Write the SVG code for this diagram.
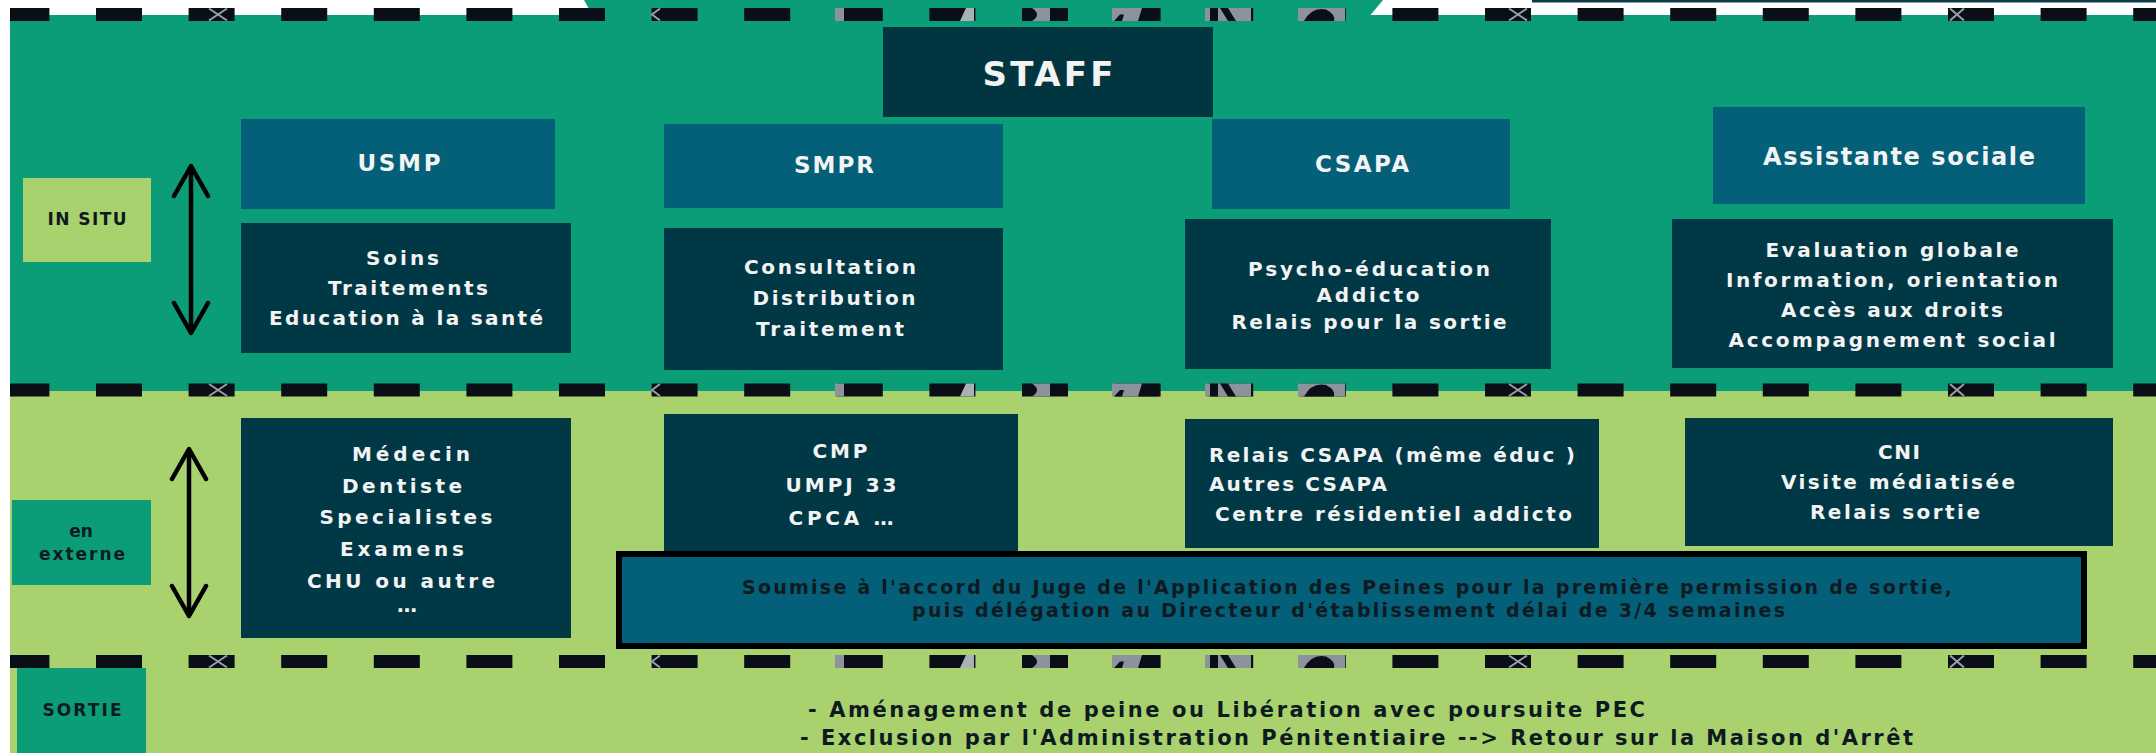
<svg xmlns="http://www.w3.org/2000/svg" xmlns:xlink="http://www.w3.org/1999/xlink" width="2156" height="753" viewBox="0 0 2156 753">
<style>
.t{font-family:"DejaVu Sans","Open Sans",sans-serif;font-weight:700;}
.w{fill:#f3f3f3;}
.k{fill:#0e1a20;}
.s18{font-size:20px;}
.s16{font-size:17px;}
.s21{font-size:23px;}
.mid{text-anchor:middle;}
.hdr{fill:#045f79;}
.dark{fill:#013845;}
.grn{fill:#0b9d78;}
.lgr{fill:#a9d26e;}
.arrow{stroke:#000;stroke-width:4.5;fill:none;marker-start:url(#ah);marker-end:url(#ah);}
</style>
<defs>
<marker id="ah" markerUnits="userSpaceOnUse" markerWidth="40" markerHeight="40" viewBox="0 0 40 40" refX="34" refY="20" orient="auto-start-reverse">
<path d="M4,3 L34,20 L4,37" fill="none" stroke="#000" stroke-width="4.5" stroke-linejoin="round" stroke-linecap="round"/>
</marker>
<g id="dashrow">
<line x1="10" y1="0" x2="2156" y2="0" stroke="#0a0e17" stroke-width="13" stroke-dasharray="46 46.6" stroke-dashoffset="6.6"/>
<g stroke="#9aa0a8" stroke-width="2" fill="none">
<path d="M209,-6 L227,6 M227,-6 L209,6"/>
<path d="M660,-6 L652,0 L660,6"/>
<path d="M1509,-6 L1527,6 M1527,-6 L1509,6"/>
<path d="M1950,-6 L1964,6 M1964,-6 L1950,6"/>
</g>
<rect x="835" y="-6.5" width="9" height="13" fill="#8d939c"/>
<path d="M966,-6.5 L974,-6.5 L974,6.5 L960,6.5 Z" fill="#a9b0b6"/>
<rect x="1032" y="-6.5" width="18" height="13" fill="#8d939c"/>
<path d="M1032,-6.5 Q1042,0 1032,6.5 Z" fill="#0a0e17"/>
<rect x="1112" y="-6.5" width="47" height="13" fill="#8d939c"/>
<path d="M1114,6.5 L1120,0 L1124,0 L1122,6.5 Z M1142,-6.5 L1159,-6.5 L1159,6.5 L1138,6.5 Z" fill="#0a0e17"/>
<rect x="1205" y="-6.5" width="46" height="13" fill="#8d939c"/>
<path d="M1210,-6.5 L1218,-6.5 L1218,6.5 L1210,6.5 Z M1220,-6.5 L1228,-6.5 L1236,6.5 L1228,6.5 Z" fill="#0a0e17"/>
<rect x="1298" y="-6.5" width="47" height="13" fill="#8d939c"/>
<path d="M1304,6.5 Q1312,-8 1326,-5 Q1336,0 1334,6.5 Z" fill="#0a0e17"/>
</g>
</defs>

<rect x="0" y="0" width="2156" height="753" fill="#ffffff"/>
<g id="background">
<rect x="10" y="15" width="2146" height="377" class="grn"/>
<polygon points="584,0 1383,0 1368,18 594,18" class="grn"/>
<rect x="10" y="391" width="2146" height="362" class="lgr"/>
<rect x="1532" y="0" width="624" height="2.5" fill="#0c3a47"/>
</g>

<g id="separators">
<use xlink:href="#dashrow" href="#dashrow" y="14.5"/>
<use xlink:href="#dashrow" href="#dashrow" y="390"/>
<use xlink:href="#dashrow" href="#dashrow" y="661.5"/>
</g>

<g id="connectors">
<line class="arrow" x1="191" y1="166" x2="191" y2="333"/>
<line class="arrow" x1="189" y1="449" x2="189" y2="616"/>
</g>

<g id="staff">
<rect x="883" y="27" width="330" height="90" fill="#013641"/>
<text class="t w mid" x="1048" y="86" font-size="34" textLength="131">STAFF</text>
</g>

<g id="in-situ">
<rect x="23" y="178" width="128" height="84" class="lgr"/>
<text class="t k s16 mid" x="87" y="225" textLength="79">IN SITU</text>
</g>

<g id="en-externe">
<rect x="12" y="500" width="139" height="85" class="grn"/>
<text class="t k s16 mid" x="81" y="537">en</text>
<text class="t k s16 mid" x="82" y="560" textLength="86">externe</text>
</g>

<g id="sortie">
<rect x="17" y="668" width="129" height="85" class="grn"/>
<text class="t k s16 mid" x="82" y="716" textLength="79">SORTIE</text>
</g>

<g id="usmp">
<rect x="241" y="119" width="314" height="90" class="hdr"/>
<text class="t w s21 mid" x="399" y="171" textLength="83">USMP</text>
</g>
<g id="usmp-insitu">
<rect x="241" y="223" width="330" height="130" class="dark"/>
<text class="t w s18 mid" x="402.5" y="265" textLength="73">Soins</text>
<text class="t w s18 mid" x="408" y="295" textLength="160">Traitements</text>
<text class="t w s18 mid" x="406" y="325" textLength="274">Education à la santé</text>
</g>

<g id="smpr">
<rect x="664" y="124" width="339" height="84" class="hdr"/>
<text class="t w s21 mid" x="834" y="173" textLength="80">SMPR</text>
</g>
<g id="smpr-insitu">
<rect x="664" y="228" width="339" height="142" class="dark"/>
<text class="t w s18 mid" x="830" y="274" textLength="172">Consultation</text>
<text class="t w s18 mid" x="834" y="305" textLength="163">Distribution</text>
<text class="t w s18 mid" x="830" y="336" textLength="148">Traitement</text>
</g>

<g id="csapa">
<rect x="1212" y="119" width="298" height="90" class="hdr"/>
<text class="t w s21 mid" x="1362" y="172" textLength="94">CSAPA</text>
</g>
<g id="csapa-insitu">
<rect x="1185" y="219" width="366" height="150" class="dark"/>
<text class="t w s18 mid" x="1369" y="276" textLength="242">Psycho-éducation</text>
<text class="t w s18 mid" x="1368" y="302" textLength="103">Addicto</text>
<text class="t w s18 mid" x="1369" y="329" textLength="275">Relais pour la sortie</text>
</g>

<g id="assistante-sociale">
<rect x="1713" y="107" width="372" height="97" class="hdr"/>
<text class="t w mid" x="1899" y="165" font-size="24" textLength="272">Assistante sociale</text>
</g>
<g id="as-insitu">
<rect x="1672" y="219" width="441" height="149" class="dark"/>
<text class="t w s18 mid" x="1892" y="257" textLength="253">Evaluation globale</text>
<text class="t w s18 mid" x="1892" y="287" textLength="332">Information, orientation</text>
<text class="t w s18 mid" x="1892" y="317" textLength="222">Accès aux droits</text>
<text class="t w s18 mid" x="1892" y="347" textLength="327">Accompagnement social</text>
</g>

<g id="usmp-externe">
<rect x="241" y="418" width="330" height="220" class="dark"/>
<text class="t w s18 mid" x="411" y="461" textLength="118">Médecin</text>
<text class="t w s18 mid" x="402" y="493" textLength="120">Dentiste</text>
<text class="t w s18 mid" x="406" y="524" textLength="173">Specialistes</text>
<text class="t w s18 mid" x="402" y="556" textLength="124">Examens</text>
<text class="t w s18 mid" x="401" y="588" textLength="188">CHU ou autre</text>
<text class="t w s18 mid" x="407" y="612">…</text>
</g>

<g id="smpr-externe">
<rect x="664" y="414" width="354" height="137" class="dark"/>
<text class="t w s18 mid" x="840" y="458" textLength="55">CMP</text>
<text class="t w s18 mid" x="841" y="492" textLength="111">UMPJ 33</text>
<text class="t w s18 mid" x="841" y="525" textLength="105">CPCA …</text>
</g>

<g id="csapa-externe">
<rect x="1185" y="419" width="414" height="129" class="dark"/>
<text class="t w s18" x="1209" y="462" textLength="366">Relais CSAPA (même éduc )</text>
<text class="t w s18" x="1209" y="491" textLength="178">Autres CSAPA</text>
<text class="t w s18" x="1215" y="521" textLength="357">Centre résidentiel addicto</text>
</g>

<g id="as-externe">
<rect x="1685" y="418" width="428" height="128" class="dark"/>
<text class="t w s18 mid" x="1899" y="459" textLength="42">CNI</text>
<text class="t w s18 mid" x="1898" y="489" textLength="234">Visite médiatisée</text>
<text class="t w s18 mid" x="1895" y="519" textLength="170">Relais sortie</text>
</g>

<g id="permission-note">
<rect x="619" y="554" width="1465" height="92" class="hdr" stroke="#000" stroke-width="6"/>
<text class="t k" x="742" y="594" font-size="19" textLength="1210">Soumise à l'accord du Juge de l'Application  des Peines pour la première permission de sortie,</text>
<text class="t k" x="912" y="617" font-size="19" textLength="873">puis délégation au Directeur d'établissement délai de 3/4 semaines</text>
</g>

<g id="sortie-text">
<text class="t k" x="808" y="717" font-size="21" textLength="837">- Aménagement de peine ou Libération avec poursuite PEC</text>
<text class="t k" x="800" y="745" font-size="21" textLength="1113">- Exclusion par l'Administration Pénitentiaire --&gt; Retour sur la Maison d'Arrêt</text>
</g>
</svg>
